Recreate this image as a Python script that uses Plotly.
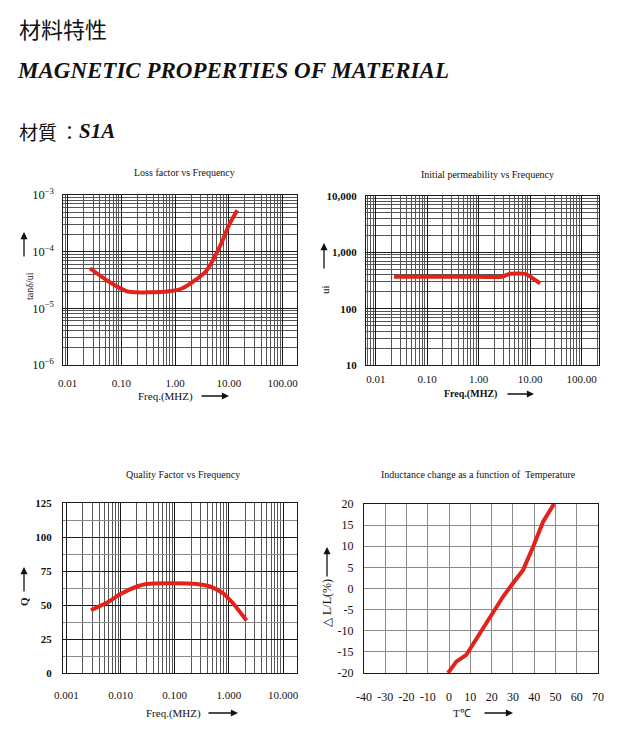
import plotly.graph_objects as go

W, H = 621, 731

# ---------------- data ----------------
loss_freq = [0.026, 0.059, 0.113, 0.14, 0.78, 1.37, 2.43, 3.72, 6.6, 10.1, 14.4]
loss_tan = [5.1e-5, 2.95e-5, 2.1e-5, 1.96e-5, 2.0e-5, 2.26e-5, 3.2e-5, 4.46e-5, 1.15e-4, 2.95e-4, 5.4e-4]

perm_freq = [0.0227, 0.1, 1.0, 2.83, 3.4, 4.1, 8.0, 11.6, 15.7]
perm_ui = [368, 368, 368, 368, 395, 415, 415, 340, 280]

q_freq = [0.00284, 0.006, 0.0098, 0.02, 0.030, 0.254, 0.447, 0.785, 1.2, 2.12]
q_val = [46.1, 52.4, 57.9, 63.6, 65.5, 65.5, 63.6, 58.6, 51.1, 38.6]

temp_c = [-0.5, 3.4, 8.1, 15.2, 20.6, 25.4, 30.1, 34.8, 39.5, 44.2, 49.3]
dl_pct = [-20, -17.3, -15.7, -10.2, -5.8, -1.9, 1.3, 4.4, 9.9, 15.8, 20]

temp_ticks = [-40, -30, -20, -10, 0, 10, 20, 30, 40, 50, 60, 70]
dl_ticks = [-20, -15, -10, -5, 0, 5, 10, 15, 20]

titles = ["Loss factor vs Frequency", "Initial permeability vs Frequency",
          "Quality Factor vs Frequency", "Inductance change as a function of  Temperature"]

# ---------------- helpers ----------------
def px(x):
    return x / W

def py(y):
    return 1 - y / H

RED = "#e3221c"
DARK = "#1a1a1a"
MID = "#555555"
LIGHT = "#8a8a8a"
SERIF = "Liberation Serif, Times New Roman, serif"
CJK = "Noto Sans CJK TC, Noto Sans CJK SC, sans-serif"

fig = go.Figure()
fig.add_trace(go.Scatter(x=loss_freq, y=loss_tan, mode="lines", line=dict(color=RED, width=4, shape="spline"),
                         xaxis="x", yaxis="y", showlegend=False))
fig.add_trace(go.Scatter(x=perm_freq, y=perm_ui, mode="lines", line=dict(color=RED, width=4, shape="spline", smoothing=0.6),
                         xaxis="x2", yaxis="y2", showlegend=False))
fig.add_trace(go.Scatter(x=q_freq, y=q_val, mode="lines", line=dict(color=RED, width=4, shape="spline", smoothing=0.6),
                         xaxis="x3", yaxis="y3", showlegend=False))
fig.add_trace(go.Scatter(x=temp_c, y=dl_pct, mode="lines", line=dict(color=RED, width=4),
                         xaxis="x4", yaxis="y4", showlegend=False))

tickfont = dict(family=SERIF, size=11, color="#111")
common = dict(showline=True, linecolor=DARK, linewidth=1, mirror=True, ticks="", tickfont=tickfont,
              zeroline=False, gridcolor=DARK, gridwidth=1, automargin=False)
logminor = dict(dtick="D1", showgrid=True, gridcolor=MID, gridwidth=1, ticks="")

# domains (pixel based)
d1x = [px(63), px(297)]; d1y = [py(365), py(195)]
d2x = [px(366), px(599)]; d2y = [py(365), py(196)]
d3x = [px(63), px(297)]; d3y = [py(673), py(503)]
d4x = [px(364), px(598)]; d4y = [py(673), py(504)]

fig.update_layout(
    width=W, height=H, margin=dict(l=0, r=0, t=0, b=0, autoexpand=False),
    paper_bgcolor="white", plot_bgcolor="white", showlegend=False,
    xaxis=dict(common, domain=d1x, anchor="y", type="log", range=[-2.086, 2.27], dtick=1,
               tickformat=".2f", minor=logminor, ticklabelstandoff=8),
    yaxis=dict(common, domain=d1y, anchor="x", type="log", range=[-6, -3], dtick=1,
               exponentformat="power", minor=logminor, ticklabelstandoff=6,
               tickfont=dict(family=SERIF, size=10, color="#111")),
    xaxis2=dict(common, domain=d2x, anchor="y2", type="log", range=[-2.19, 2.34], dtick=1,
                tickformat=".2f", minor=logminor, ticklabelstandoff=4),
    yaxis2=dict(common, domain=d2y, anchor="x2", type="log", range=[1, 4], dtick=1,
                tickformat=",d", minor=logminor, ticklabelstandoff=6,
                tickfont=dict(family=SERIF, size=11, color="#111", weight="bold")),
    xaxis3=dict(common, domain=d3x, anchor="y3", type="log", range=[-3.063, 1.258], dtick=1,
                tickformat=".3f", minor=logminor, ticklabelstandoff=12),
    yaxis3=dict(common, domain=d3y, anchor="x3", range=[0, 125], dtick=25,
                minor=dict(dtick=12.5, showgrid=True, gridcolor=LIGHT, gridwidth=1, ticks=""),
                ticklabelstandoff=8, tickfont=dict(family=SERIF, size=11, color="#111", weight="bold")),
    xaxis4=dict(common, domain=d4x, anchor="y4", range=[-40, 70], tickmode="array",
                tickvals=temp_ticks, ticktext=[str(v) for v in temp_ticks], gridcolor=LIGHT,
                ticklabelstandoff=13, tickfont=dict(family=SERIF, size=12, color="#111")),
    yaxis4=dict(common, domain=d4y, anchor="x4", range=[-20, 20], tickmode="array",
                tickvals=dl_ticks, ticktext=[str(v) for v in dl_ticks], gridcolor=LIGHT,
                ticklabelstandoff=7, tickfont=dict(family=SERIF, size=12, color="#111")),
)

ann = []
def text(x, y, s, size=10, family=SERIF, angle=0, xanchor="center", color="#111"):
    ann.append(dict(x=px(x), y=py(y), xref="paper", yref="paper", text=s, showarrow=False,
                    font=dict(family=family, size=size, color=color), textangle=angle,
                    xanchor=xanchor, yanchor="middle"))

def arrow(x0, y0, x1, y1):
    # arrow from (x0,y0) to (x1,y1) in pixels, head at (x1,y1)
    ann.append(dict(x=px(x1), y=py(y1), xref="paper", yref="paper", ax=x0 - x1, ay=y0 - y1,
                    axref="pixel", ayref="pixel", text="", showarrow=True, arrowhead=2,
                    arrowsize=1.1, arrowwidth=1.3, arrowcolor="#111"))

# header
text(17, 28, "材料特性", size=22, family=CJK, xanchor="left")
text(15, 71, "<b><i>MAGNETIC PROPERTIES OF MATERIAL</i></b>", size=23, family=SERIF, xanchor="left")
text(17, 131, "材質", size=19, family=CJK, xanchor="left")
text(58, 131, "：", size=19, family=CJK, xanchor="left")
text(77, 131, "<b><i>S1A</i></b>", size=21, family=SERIF, xanchor="left")

# subplot titles
text(184, 172, titles[0], size=10)
text(487, 175, titles[1], size=10)
text(183, 474, titles[2], size=10)
text(478, 474, titles[3], size=10)

# x axis titles + arrows
text(165, 396, "Freq.(MHZ)", size=11)
arrow(200, 396, 229, 396)
text(470, 394, "<b>Freq.(MHZ)</b>", size=10)
arrow(506, 394, 534, 394)
text(173, 713, "Freq.(MHZ)", size=11)
arrow(207, 713, 238, 713)
text(462, 713, "T℃", size=11)
arrow(483, 713, 513, 713)

# y axis titles + arrows
text(29, 286, "tanδ/ui", size=10, angle=-90)
arrow(24, 258, 24, 232)
text(325, 290, "ui", size=11, angle=-90)
arrow(324, 270, 324, 243)
text(24, 602, "<b>Q</b>", size=11, angle=-90)
arrow(24, 593, 24, 567)
text(327, 603, "△ L/L(%)", size=12, angle=-90)
arrow(327, 578, 327, 547)

fig.update_layout(annotations=ann)
fig.write_html("out.html", config={"displayModeBar": False},
               post_script="document.body.style.margin='0';document.body.style.overflow='hidden';")
